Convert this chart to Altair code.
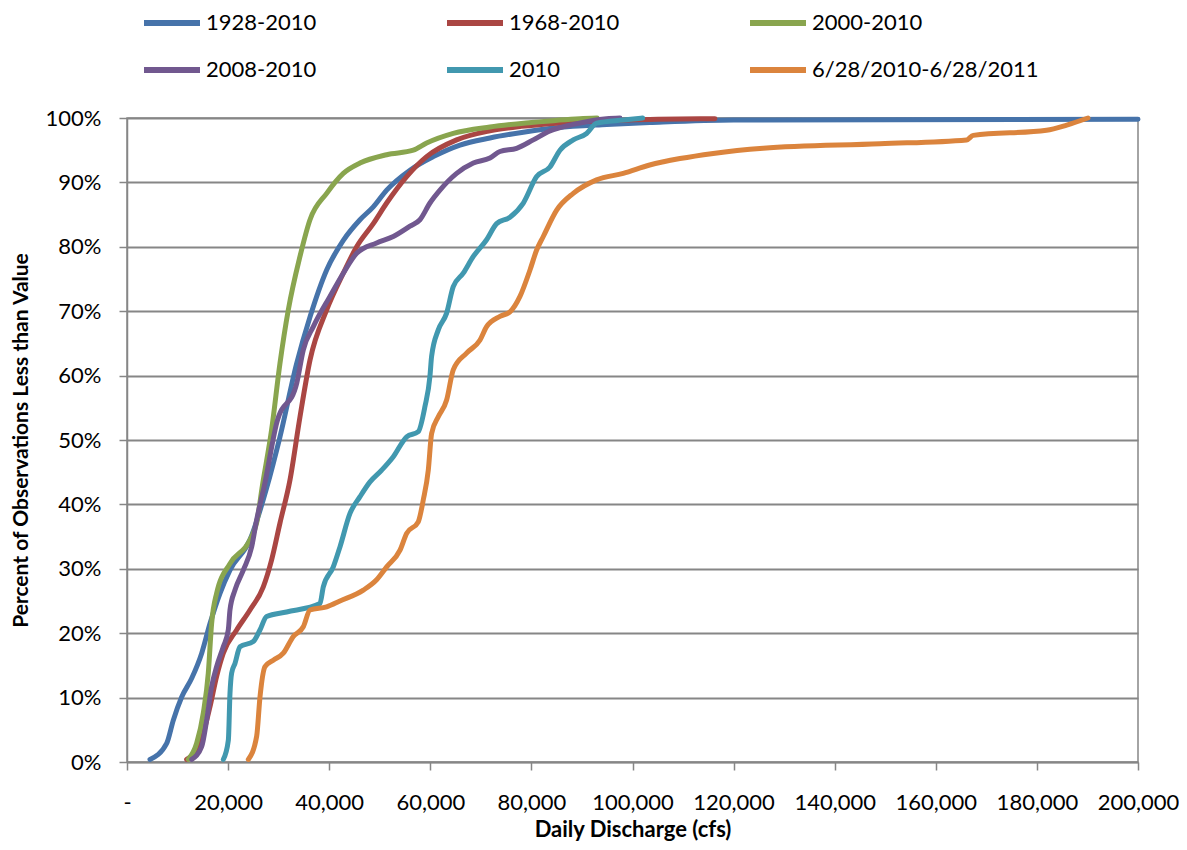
import altair as alt
import pandas as pd

series_names = ["1928-2010", "1968-2010", "2000-2010", "2008-2010", "2010", "6/28/2010-6/28/2011"]
series_colors = ["#4673AA", "#AA4643", "#89A54E", "#71588F", "#4198AF", "#DB843D"]
# legend filled column by column (2 rows x 3 columns)
legend_order = ["1928-2010", "2008-2010", "1968-2010", "2010", "2000-2010", "6/28/2010-6/28/2011"]

x_1928 = [4550, 7850, 9160, 10820, 12800, 14780, 16420, 18400, 20370, 24330, 27600, 30260, 33570,
          36200, 39500, 42790, 46090, 48720, 51370, 55980, 60590, 65870, 71800, 78400, 85000, 94900,
          103400, 120000, 200000]
p_1928 = [0.4, 2.9, 6.5, 10.1, 13.0, 16.9, 21.5, 26.2, 29.8, 34.5, 42.5, 50.5, 61.9,
          69.1, 76.4, 81.0, 84.2, 86.2, 88.8, 91.9, 94.0, 95.8, 96.9, 97.8, 98.5, 99.0,
          99.3, 99.7, 99.8]

x_1968 = [11800, 14440, 16420, 17730, 19050, 21690, 24330, 26960, 28610, 30260, 32240, 34220, 36200,
          39500, 42790, 45430, 48720, 51370, 55320, 59270, 65210, 71800, 78000, 85000, 95000, 105000, 116300]
p_1968 = [0.4, 2.9, 8.6, 13.3, 16.9, 20.5, 23.6, 27.2, 31.4, 37.1, 43.8, 53.6, 62.4,
          70.2, 75.9, 80.0, 83.6, 86.8, 90.9, 94.0, 96.6, 98.0, 98.7, 99.2, 99.6, 99.8, 99.9]

x_2000 = [12130, 13780, 15090, 16080, 16740, 17730, 20370, 24330, 25640, 26800, 28610, 30260, 31910,
          34220, 36200, 39500, 42790, 46090, 51370, 56630, 59270, 64540, 71800, 80000, 89610, 93000]
p_2000 = [0.4, 2.9, 7.6, 13.8, 21.5, 26.2, 30.8, 34.5, 37.1, 43.0, 51.6, 61.9, 70.2,
          78.5, 84.2, 88.3, 91.4, 93.0, 94.3, 95.0, 96.1, 97.6, 98.6, 99.3, 99.9, 100.0]

x_2008 = [12800, 14770, 15760, 16740, 17730, 19050, 20040, 20370, 21360, 23010, 24660, 25650, 27200,
          29600, 33570, 34880, 36860, 40150, 42790, 45430, 49380, 52680, 55980, 57950, 59930, 61910,
          65210, 68510, 71800, 73780, 77080, 80370, 83670, 88280, 94870, 97520]
p_2008 = [0.4, 2.4, 6.5, 11.7, 14.8, 17.9, 20.5, 23.6, 26.7, 29.8, 33.4, 37.6, 43.0,
          52.6, 58.8, 64.0, 67.6, 72.3, 75.9, 79.0, 80.6, 81.6, 83.2, 84.2, 86.8, 88.8,
          91.4, 93.0, 93.8, 94.8, 95.3, 96.6, 98.0, 99.0, 99.9, 100.0]

x_2010 = [19060, 20050, 20370, 20700, 21360, 22350, 24980, 26300, 27620, 31570, 38170, 38830, 40810,
          42130, 44110, 46090, 48070, 50360, 52680, 55320, 57620, 58940, 59930, 60260, 61580, 63230,
          64540, 66520, 68510, 71140, 73120, 75760, 78400, 81040, 83670, 85650, 88280, 90920, 92900,
          98170, 102000]
p_2010 = [0.4, 3.4, 10.6, 13.8, 15.3, 17.9, 18.7, 20.5, 22.6, 23.3, 24.6, 27.2, 30.3,
          33.4, 38.6, 41.2, 43.5, 45.3, 47.4, 50.5, 51.3, 55.2, 59.9, 63.0, 67.1, 69.7,
          73.8, 75.9, 78.5, 81.1, 83.6, 84.6, 86.8, 90.9, 92.4, 95.0, 96.6, 97.6, 99.2,
          99.7, 100.0]

x_1011 = [24000, 25650, 26310, 27300, 28940, 30920, 32900, 34880, 36200, 39500, 42130, 46750, 49380,
          51370, 54010, 55320, 57620, 58610, 59600, 60260, 61580, 63230, 64540, 67180, 69810, 71140,
          73780, 75760, 77740, 79720, 81040, 82350, 85000, 88280, 92900, 98170, 103400, 109380, 115970,
          125860, 148950, 166100, 167400, 181900, 185900, 190100]
p_1011 = [0.4, 4.0, 10.1, 14.8, 15.8, 16.9, 19.5, 21.0, 23.6, 24.1, 25.0, 26.7, 28.3,
          30.3, 32.9, 35.5, 37.3, 40.7, 45.3, 51.0, 53.6, 56.2, 60.9, 63.5, 65.5, 67.6,
          69.2, 69.9, 72.3, 76.4, 79.5, 81.6, 85.7, 88.3, 90.4, 91.4, 92.7, 93.7, 94.5,
          95.3, 96.0, 96.6, 97.3, 98.1, 98.9, 100.0]

x_ticks = list(range(0, 200001, 20000))
y_ticks = list(range(0, 101, 10))

rows = []
for name, xs, ps in zip(series_names,
                        [x_1928, x_1968, x_2000, x_2008, x_2010, x_1011],
                        [p_1928, p_1968, p_2000, p_2008, p_2010, p_1011]):
    for i, (xv, pv) in enumerate(zip(xs, ps)):
        rows.append({"series": name, "flow": xv, "pct": pv, "order": i})
df = pd.DataFrame(rows)

FONT = "Lato"
GRID = "#868686"

chart = alt.Chart(df).mark_line(strokeWidth=5, strokeCap="round", strokeJoin="round",
                                interpolate="monotone").encode(
    x=alt.X("flow:Q", scale=alt.Scale(domain=[0, 200000], nice=False),
            axis=alt.Axis(values=x_ticks,
                          labelExpr="datum.value == 0 ? '-' : format(datum.value, ',')",
                          grid=False, tickSize=8, labelPadding=22, labelFontSize=22,
                          labelFont=FONT, labelColor="black", labelFlush=False,
                          domainColor=GRID, domainWidth=1.5, tickColor=GRID, tickWidth=1.5,
                          title="Daily Discharge (cfs)", titleFont=FONT, titleFontSize=22,
                          titleFontWeight="bold", titleColor="black", titleY=67,
                          titleBaseline="middle")),
    y=alt.Y("pct:Q", scale=alt.Scale(domain=[0, 100], nice=False),
            axis=alt.Axis(values=y_ticks, labelExpr="datum.value + '%'",
                          grid=True, gridColor=GRID, gridWidth=2,
                          tickSize=8, labelPadding=18, labelFontSize=22, labelFont=FONT,
                          labelColor="black", domainColor=GRID, domainWidth=1.5,
                          tickColor=GRID, tickWidth=1.5,
                          title="Percent of Observations Less than Value", titleFont=FONT,
                          titleFontSize=21, titleFontWeight="bold", titleColor="black",
                          titleAngle=270, titleX=-106, titleY=322, titleAlign="center",
                          titleBaseline="middle")),
    color=alt.Color("series:N", scale=alt.Scale(domain=series_names, range=series_colors),
                    legend=alt.Legend(title=None, orient="none", legendX=14, legendY=-126,
                                      columns=3, values=legend_order,
                                      symbolType="stroke", symbolSize=3136,
                                      symbolStrokeWidth=6, labelFont=FONT, labelFontSize=22,
                                      labelColor="black", labelOffset=3, columnPadding=118,
                                      rowPadding=4, labelLimit=400)),
    order=alt.Order("order:Q"),
).properties(
    width=1011, height=644,
    padding={"left": 119, "top": 110, "right": 41, "bottom": 80},
    autosize=alt.AutoSizeParams(type="none"),
).configure_view(stroke=GRID, strokeWidth=1.5)

chart.save("out.html", embed_options={"renderer": "svg", "actions": False})
